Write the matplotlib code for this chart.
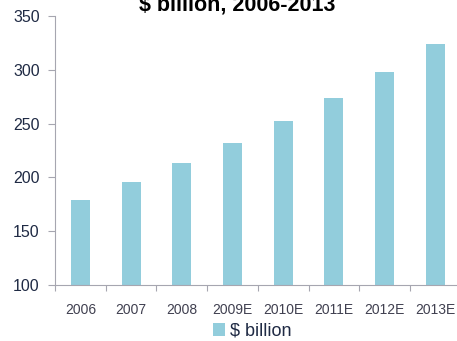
import numpy as np
import matplotlib.pyplot as plt

plt.rcParams['font.family'] = ['Liberation Sans', 'DejaVu Sans']

years = ['2006', '2007', '2008', '2009E', '2010E', '2011E', '2012E', '2013E']
values = [179, 196, 213, 232, 252, 274, 298, 324]

bar_color = '#92CDDC'
spine_color = '#A6A6B0'

fig = plt.figure(figsize=(4.57, 3.41), dpi=100)
ax = fig.add_axes([55/457, 56/341, 405.6/457, 269/341])

x = np.arange(len(years))
ax.bar(x, values, width=0.375, color=bar_color, label='$ billion', zorder=2)

ax.set_xlim(-0.5, len(years) - 0.5)
ax.set_ylim(100, 350)
ax.set_yticks([100, 150, 200, 250, 300, 350])

# ticks sit on category boundaries, labels in the middle
ax.set_xticks(np.arange(len(years) + 1) - 0.5)
ax.set_xticklabels([])
ax.set_xticks(x, minor=True)
ax.set_xticklabels(years, minor=True)
ax.tick_params(axis='x', which='major', length=4, color=spine_color, direction='out')
ax.tick_params(axis='x', which='minor', length=0, pad=13, labelsize=10, labelcolor='#404050')
ax.tick_params(axis='y', length=5, color=spine_color, pad=6, labelsize=11.5, labelcolor='#1F2A44')

for s in ['top', 'right']:
    ax.spines[s].set_visible(False)
ax.spines['left'].set_color(spine_color)
ax.spines['bottom'].set_color(spine_color)

# title is partly above the top edge, as in the original
fig.text(237/457, 1 - 11/341, '$ billion, 2006-2013', ha='center', va='baseline',
         fontsize=15.5, fontweight='bold', color='black')

fig.legend(loc='center', bbox_to_anchor=(252/457, 1 - 331/341), frameon=False,
           fontsize=13, handlelength=0.7, handleheight=0.7, handletextpad=0.25,
           labelcolor='#1F2A44')

fig.savefig('out.png', dpi=100)
